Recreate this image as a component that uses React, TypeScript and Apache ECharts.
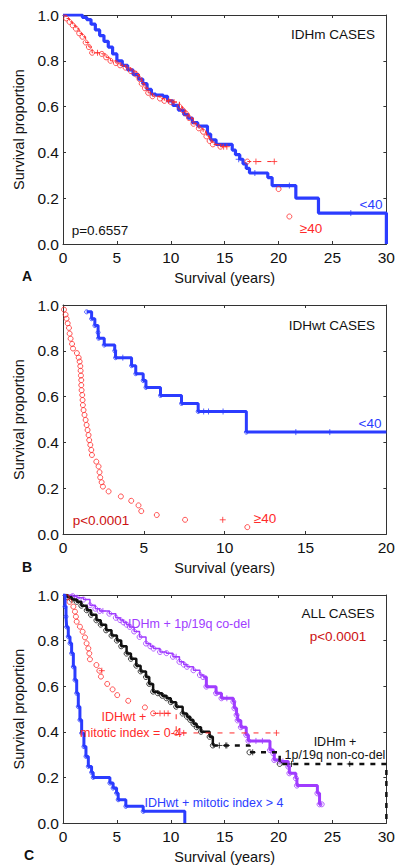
import React, { useEffect, useRef } from "react";
import * as echarts from "echarts";

const FONT = '"Liberation Sans", Arial, Helvetica, sans-serif';

// Tick labels
const yTicks = [0, 0.2, 0.4, 0.6, 0.8, 1.0];
const xMaxes = [30, 20, 30];
const xTitle = "Survival (years)";
const yTitle = "Survival proportion";

// Panel A: IDHm cases
const aBlueEvents: number[][] = [
  [0, 1], [1.5, 1.0], [1.8, 0.99], [2.2, 0.98], [2.6, 0.96], [3.0, 0.935], [3.4, 0.91], [3.8, 0.885],
  [4.2, 0.86], [4.6, 0.83], [5.0, 0.8], [5.5, 0.78], [6.0, 0.76], [6.5, 0.74], [7.0, 0.72], [7.4, 0.7],
  [7.8, 0.675], [8.2, 0.655], [8.6, 0.65], [9.3, 0.645], [9.7, 0.625], [10.2, 0.605], [10.7, 0.585],
  [11.2, 0.565], [11.6, 0.55], [12.0, 0.53], [12.5, 0.515], [13.4, 0.48], [13.7, 0.455], [14.2, 0.435],
  [15.7, 0.41], [16.0, 0.39], [16.4, 0.37], [16.7, 0.35], [17.0, 0.33], [17.3, 0.31], [19.0, 0.29],
  [19.4, 0.255], [21.6, 0.2], [23.7, 0.135], [30, 0.135], [30, 0],
];
const aBlueCensors: number[][] = [[16.3, 0.37], [17.8, 0.31], [21.0, 0.255], [26.7, 0.135]];
const aRedEvents: number[][] = [
  [0, 1], [0.3, 0.985], [0.6, 0.97], [0.9, 0.955], [1.2, 0.94], [1.5, 0.92], [1.8, 0.905], [2.1, 0.88],
  [2.4, 0.86], [2.7, 0.835], [3.6, 0.83], [4.0, 0.815], [4.4, 0.8], [4.9, 0.79], [5.3, 0.78], [5.8, 0.77],
  [6.3, 0.755], [6.8, 0.74], [7.1, 0.72], [7.3, 0.7], [7.6, 0.68], [7.9, 0.66], [8.3, 0.645], [9.0, 0.635],
  [9.4, 0.625], [10.0, 0.62], [10.8, 0.6], [11.1, 0.585], [11.4, 0.57], [11.7, 0.55], [12.1, 0.525],
  [12.6, 0.505], [13.0, 0.49], [13.3, 0.47], [13.6, 0.45], [13.9, 0.435], [14.6, 0.425], [17.1, 0.36],
  [20.0, 0.24], [21.0, 0.12],
];
const aRedCensors: number[][] = [[3.2, 0.835], [9.8, 0.625], [10.3, 0.62], [14.9, 0.425], [15.2, 0.425], [17.9, 0.36], [19.6, 0.36]];
// visible stretches of the ≥40 line
const aRedPathEarly: number[][] = [...aRedEvents.slice(0, 37), [15.2, 0.425]];
const aRedPathLate: number[][] = [[17.1, 0.36], [19.6, 0.36]];

// Panel B: IDHwt cases
const bBlueEvents: number[][] = [
  [1.46, 0.97], [1.77, 0.94], [1.97, 0.91], [2.17, 0.88], [2.2, 0.855], [2.55, 0.825], [3.2, 0.8],
  [3.25, 0.77], [4.24, 0.735], [4.5, 0.7], [4.96, 0.67], [5.13, 0.64], [6.03, 0.605], [7.33, 0.57],
  [8.36, 0.535], [11.34, 0.445], [20, 0.445],
];
const bBlueCensors: number[][] = [[3.7, 0.77], [8.7, 0.535], [9.0, 0.535], [9.9, 0.535], [14.4, 0.445], [16.5, 0.445]];
const bRedEvents: number[][] = [
  [0.06, 0.98], [0.16, 0.958], [0.22, 0.94], [0.29, 0.92], [0.37, 0.9], [0.41, 0.875], [0.47, 0.853],
  [0.56, 0.83], [0.62, 0.81], [0.86, 0.79], [0.97, 0.77], [1.03, 0.753], [1.07, 0.733], [1.09, 0.713],
  [1.11, 0.692], [1.13, 0.672], [1.13, 0.65], [1.15, 0.628], [1.19, 0.607], [1.21, 0.585], [1.23, 0.563],
  [1.27, 0.541], [1.33, 0.52], [1.4, 0.498], [1.46, 0.476], [1.52, 0.454], [1.58, 0.432], [1.62, 0.41],
  [1.69, 0.389], [1.75, 0.367], [1.79, 0.345], [2.06, 0.316], [2.2, 0.295], [2.26, 0.27], [2.3, 0.247],
  [2.39, 0.226], [2.47, 0.207], [2.82, 0.186], [3.58, 0.164], [4.22, 0.145], [4.67, 0.125], [4.84, 0.1],
  [5.8, 0.083], [7.55, 0.062], [11.4, 0.03],
];
const bRedCensors: number[][] = [[9.88, 0.062]];
const bRedDash: number[][] = [[13.1, 0.03]];

// Panel C: all cases
const cPurpleEvents: number[][] = [
  [0, 1], [0.9, 0.995], [1.3, 0.988], [1.9, 0.98], [2.5, 0.955], [3.0, 0.94], [3.4, 0.93], [4.3, 0.918],
  [4.9, 0.9], [5.3, 0.89], [5.6, 0.88], [5.9, 0.87], [6.2, 0.86], [6.6, 0.84], [7.1, 0.816], [7.7, 0.787],
  [8.1, 0.775], [8.4, 0.765], [9.0, 0.75], [9.6, 0.745], [10.2, 0.729], [10.8, 0.707], [11.2, 0.695],
  [11.5, 0.685], [12.1, 0.67], [12.7, 0.649], [13.0, 0.64], [13.3, 0.598], [14.2, 0.569], [14.7, 0.547],
  [15.8, 0.532], [15.9, 0.503], [16.1, 0.474], [16.2, 0.45], [16.5, 0.42], [17.0, 0.386], [17.2, 0.36],
  [19.2, 0.32], [19.5, 0.306], [19.6, 0.276], [20.1, 0.27], [20.9, 0.247], [21.0, 0.218], [21.6, 0.196],
  [21.7, 0.164], [23.6, 0.13], [23.8, 0.082], [24.0, 0.082],
];
const cPurpleCensors: number[][] = [[3.7, 0.93], [10.5, 0.729], [15.2, 0.547], [17.9, 0.36], [18.5, 0.36], [20.4, 0.27]];
const cBlackEvents: number[][] = [
  [0, 1], [0.4, 0.99], [0.8, 0.98], [1.27, 0.97], [1.7, 0.953], [2.2, 0.933], [2.6, 0.913], [3.1, 0.889],
  [3.5, 0.87], [4.0, 0.845], [4.5, 0.822], [5.0, 0.8], [5.4, 0.775], [5.9, 0.743], [6.3, 0.72], [6.8, 0.69],
  [7.2, 0.665], [7.7, 0.64], [8.0, 0.61], [8.36, 0.576], [8.8, 0.569], [9.2, 0.558], [9.6, 0.547],
  [10.0, 0.53], [10.5, 0.51], [11.1, 0.48], [11.5, 0.466], [11.8, 0.452], [12.1, 0.435], [12.4, 0.42],
  [12.8, 0.4], [13.6, 0.378], [13.9, 0.34], [17.3, 0.31], [20.1, 0.259], [30, 0.259], [30, 0],
];
const cBlackCensors: number[][] = [[14.5, 0.34], [15.1, 0.34], [15.2, 0.34], [17.6, 0.31], [21.2, 0.259], [26.6, 0.259]];
const cRedEvents: number[][] = [
  [0, 1], [0.34, 0.99], [0.6, 0.97], [0.96, 0.949], [1.11, 0.927], [1.2, 0.905], [1.27, 0.883],
  [1.57, 0.861], [1.82, 0.839], [2.04, 0.814], [2.19, 0.788], [2.35, 0.766], [2.44, 0.744], [2.5, 0.718],
  [3.1, 0.693], [3.37, 0.668], [3.52, 0.642], [4.1, 0.61], [4.6, 0.586], [5.03, 0.561], [6.05, 0.536],
  [7.6, 0.507], [8.36, 0.481], [10.5, 0.395], [19.8, 0.395],
];
const cRedCensors: number[][] = [[3.6, 0.668], [9.0, 0.481], [9.4, 0.481], [9.75, 0.481], [11.2, 0.395], [19.8, 0.395]];
const cBlueEvents: number[][] = [
  [0, 1], [0.19, 0.949], [0.28, 0.905], [0.34, 0.86], [0.49, 0.817], [0.65, 0.788], [0.8, 0.744],
  [0.96, 0.685], [1.11, 0.627], [1.27, 0.569], [1.42, 0.51], [1.57, 0.452], [1.73, 0.394], [1.94, 0.335],
  [2.13, 0.292], [2.35, 0.248], [2.65, 0.222], [2.8, 0.2], [4.35, 0.175], [4.65, 0.153], [4.97, 0.131],
  [5.12, 0.102], [5.83, 0.073], [7.44, 0.051], [11.3, 0.0],
];

const BLUE = "#2b3cff";
const RED = "#ff2a2a";
const PURPLE = "#a03cff";
const BLACK = "#111111";
const DARKRED = "#cc1111";

const GRIDS = [
  { left: 63, top: 15, width: 325, height: 229 },
  { left: 63, top: 305, width: 324, height: 229 },
  { left: 63, top: 595, width: 324, height: 228 },
];

const CROSS = "path://M5,0L5,10M0,5L10,5";
const DASH = "path://M0,5L10,5";

function stepLine(data: number[][], color: string, width: number, p: number, dash?: number[], z = 2) {
  return {
    type: "line",
    xAxisIndex: 2 * p,
    yAxisIndex: 2 * p,
    data,
    step: "end",
    showSymbol: false,
    silent: true,
    z,
    lineStyle: { color, width, type: dash ? dash : "solid" },
  };
}
function circles(data: number[][], color: string, p: number, size = 5, z = 3) {
  return {
    type: "scatter",
    xAxisIndex: 2 * p,
    yAxisIndex: 2 * p,
    data,
    symbol: "circle",
    symbolSize: size,
    silent: true,
    z,
    itemStyle: { color: "rgba(255,255,255,0)", borderColor: color, borderWidth: 1 },
  };
}
function marks(data: number[][], color: string, p: number, symbol = CROSS, size = 6, z = 3) {
  return {
    type: "scatter",
    xAxisIndex: 2 * p,
    yAxisIndex: 2 * p,
    data,
    symbol,
    symbolSize: size,
    silent: true,
    z,
    itemStyle: { color: "rgba(0,0,0,0)", borderColor: color, borderWidth: 1 },
  };
}

function txt(x: number, y: number, text: string, color: string, size = 13, align = "center", weight = "normal") {
  return {
    type: "text",
    x,
    y,
    z: 100,
    style: { text, fill: color, font: `${weight} ${size}px ${FONT}`, align, verticalAlign: "middle" },
  };
}

export default function App() {
  const ref = useRef<HTMLDivElement>(null);
  useEffect(() => {
    if (!ref.current) return;
    const chart = echarts.init(ref.current, undefined, { renderer: "svg" });
    const xAxis: any[] = [];
    const yAxis: any[] = [];
    GRIDS.forEach((_, p) => {
      const lineStyle = { color: "#333", width: 1 };
      xAxis.push({
        type: "value", gridIndex: p, min: 0, max: xMaxes[p], interval: 5, position: "bottom",
        name: xTitle, nameLocation: "middle", nameGap: 26,
        nameTextStyle: { fontFamily: FONT, fontSize: 14.5, color: "#111" },
        axisLine: { show: true, onZero: false, lineStyle },
        axisTick: { show: true, inside: true, length: 3, lineStyle },
        axisLabel: { fontFamily: FONT, fontSize: 15.5, color: "#111", margin: 5 },
        splitLine: { show: false },
      });
      xAxis.push({
        type: "value", gridIndex: p, min: 0, max: xMaxes[p], interval: 5, position: "top",
        axisLine: { show: true, onZero: false, lineStyle },
        axisTick: { show: true, inside: true, length: 3, lineStyle },
        axisLabel: { show: false }, splitLine: { show: false },
      });
      yAxis.push({
        type: "value", gridIndex: p, min: 0, max: 1, interval: 0.2, position: "left",
        name: yTitle, nameLocation: "middle", nameGap: 36,
        nameTextStyle: { fontFamily: FONT, fontSize: 14.5, color: "#111" },
        axisLine: { show: true, onZero: false, lineStyle },
        axisTick: { show: true, inside: true, length: 3, lineStyle },
        axisLabel: { fontFamily: FONT, fontSize: 15.5, color: "#111", margin: 4, formatter: (v: number) => v.toFixed(1) },
        splitLine: { show: false },
      });
      yAxis.push({
        type: "value", gridIndex: p, min: 0, max: 1, interval: 0.2, position: "right",
        axisLine: { show: true, onZero: false, lineStyle },
        axisTick: { show: true, inside: true, length: 3, lineStyle },
        axisLabel: { show: false }, splitLine: { show: false },
      });
    });

    const series: any[] = [
      // Panel A
      stepLine(aBlueEvents, BLUE, 3.2, 0, undefined, 2),
      marks(aBlueCensors, BLUE, 0, CROSS, 6, 3),
      stepLine(aRedPathEarly, RED, 1, 0, [5, 2], 4),
      stepLine(aRedPathLate, RED, 1, 0, [4, 6], 4),
      circles(aRedEvents.slice(1), RED, 0, 5, 5),
      marks(aRedCensors, RED, 0, CROSS, 6, 5),
      // Panel B
      stepLine(bBlueEvents, BLUE, 3, 1, undefined, 2),
      circles(bBlueEvents.slice(0, -1), BLUE, 1, 4, 3),
      marks(bBlueCensors, BLUE, 1, CROSS, 6, 3),
      circles(bRedEvents, RED, 1, 5, 5),
      marks(bRedCensors, RED, 1, CROSS, 6, 5),
      marks(bRedDash, RED, 1, DASH, 6, 5),
      // Panel C
      stepLine(cPurpleEvents.slice(0, 27), PURPLE, 1.5, 2, undefined, 2),
      stepLine(cPurpleEvents.slice(26), PURPLE, 3, 2, undefined, 2),
      circles(cPurpleEvents.slice(1), PURPLE, 2, 5, 3),
      marks(cPurpleCensors, PURPLE, 2, CROSS, 6, 3),
      stepLine(cBlackEvents.slice(0, 33), BLACK, 2.5, 2, undefined, 4),
      stepLine(cBlackEvents.slice(32), BLACK, 2.5, 2, [5, 6], 4),
      circles(cBlackEvents.slice(1, -2), BLACK, 2, 5, 5),
      marks(cBlackCensors, BLACK, 2, CROSS, 6, 5),
      stepLine(cRedEvents.slice(-3), RED, 1, 2, [5, 7], 6),
      circles(cRedEvents.slice(1, -1), RED, 2, 5, 7),
      marks(cRedCensors, RED, 2, CROSS, 6, 7),
      stepLine(cBlueEvents, BLUE, 3, 2, undefined, 8),
      circles(cBlueEvents.slice(1, -1), BLUE, 2, 4, 9),
    ];

    const graphic: any[] = [
      // Panel A
      txt(333, 34, "IDHm CASES", "#111", 13.5),
      txt(100, 230, "p=0.6557", "#111", 13.5),
      txt(371, 204, "<40", BLUE, 13.5),
      txt(311, 228, "≥40", RED, 13.5),
      txt(27, 276, "A", "#111", 14, "center", "bold"),
      // Panel B
      txt(332, 325, "IDHwt CASES", "#111", 13.5),
      txt(101, 520, "p<0.0001", DARKRED, 13.5),
      txt(370, 423, "<40", BLUE, 13.5),
      txt(265, 518, "≥40", RED, 13.5),
      txt(27, 567, "B", "#111", 14, "center", "bold"),
      // Panel C
      txt(338, 613, "ALL CASES", "#111", 13.5),
      txt(338, 636, "p<0.0001", DARKRED, 13.5),
      txt(189, 624, "IDHm + 1p/19q co-del", PURPLE, 12.5),
      txt(124, 717, "IDHwt +", RED, 12.5),
      txt(131, 733, "mitotic index = 0-4", RED, 12.5),
      txt(335, 742, "IDHm +", "#111", 12.5),
      txt(335, 755, "1p/19q non-co-del", "#111", 12.5),
      txt(214, 803, "IDHwt + mitotic index > 4", BLUE, 12.5),
      txt(29, 855, "C", "#111", 14, "center", "bold"),
    ];

    chart.setOption({
      animation: false,
      backgroundColor: "#fff",
      textStyle: { fontFamily: FONT },
      grid: GRIDS.map((g) => ({ ...g, containLabel: false })),
      xAxis,
      yAxis,
      series,
      graphic,
    });
    return () => chart.dispose();
  }, []);
  return <div ref={ref} style={{ position: "absolute", left: 0, top: 0, width: 398, height: 867 }} />;
}
